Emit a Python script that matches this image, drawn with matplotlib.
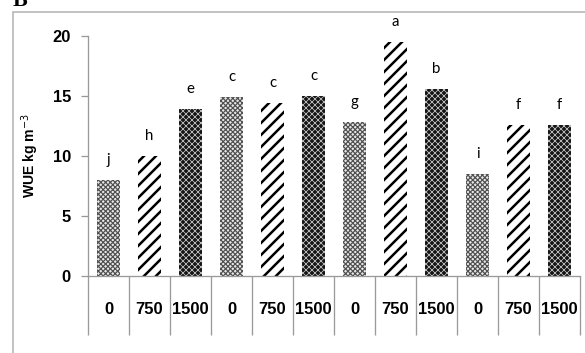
import numpy as np
import matplotlib
matplotlib.use("Agg")
import matplotlib.pyplot as plt
from matplotlib.patches import Rectangle
import matplotlib.transforms as mtransforms

# data
rates = ["0", "750", "1500", "0", "750", "1500", "0", "750", "1500", "0", "750", "1500"]
wue = [8.0, 10.0, 13.9, 14.9, 14.4, 15.0, 12.8, 19.5, 15.6, 8.5, 12.6, 12.6]
letters = ["j", "h", "e", "c", "c", "c", "g", "a", "b", "i", "f", "f"]

# look for each rate level: (bar style, hatch line width)
styles = {
    "0": (dict(facecolor="#e8e8e8", edgecolor="#505050", hatch="xxxxx"), 1.2),
    "750": (dict(facecolor="white", edgecolor="black", hatch="//"), 2.5),
    "1500": (dict(facecolor="#151515", edgecolor="#d0d0d0", hatch="xxxx"), 0.7),
}

plt.rcParams["font.family"] = ["Liberation Sans", "DejaVu Sans"]

W, H = 585, 353
fig = plt.figure(figsize=(W / 72, H / 72), dpi=72)
fig.patch.set_facecolor("white")

# outer frame and the clipped panel letter
fig.patches.append(Rectangle((13 / W, -0.1), 1.2, 1 - 12 / H + 0.1, transform=fig.transFigure,
                             fill=False, edgecolor="#b0b0b0", linewidth=1.5))
fig.text(13 / W, 1 - 6 / H, "B", fontsize=22, fontweight="bold",
         family=["Liberation Serif", "DejaVu Serif"], va="baseline", ha="left")

ax = fig.add_axes([88 / W, 1 - 276 / H, (580 - 88) / W, 240 / H])
x = np.arange(len(wue))
for xi, v, r in zip(x, wue, rates):
    st, hlw = styles[r]
    with plt.rc_context({"hatch.linewidth": hlw}):
        b = ax.bar(xi, v, width=0.56, linewidth=0, **st)
        for p in b:
            if hasattr(p, "set_hatch_linewidth"):
                p.set_hatch_linewidth(hlw)

for xi, v, s in zip(x, wue, letters):
    ax.annotate(s, (xi, v), xytext=(0, 20), textcoords="offset points",
                ha="center", va="center", fontsize=15, family=["Lato", "DejaVu Sans"])

ax.set_xlim(-0.5, len(wue) - 0.5)
ax.set_ylim(0, 20)
ax.set_yticks([0, 5, 10, 15, 20])
ax.set_xticks([])
for lab in ["top", "right"]:
    ax.spines[lab].set_visible(False)
for lab in ["left", "bottom"]:
    ax.spines[lab].set_color("#9a9a9a")
    ax.spines[lab].set_linewidth(1.3)
ax.tick_params(axis="y", length=7, width=1.3, color="#9a9a9a", pad=10, labelsize=16.5)
for t in ax.get_yticklabels():
    t.set_fontweight("bold")

# table-like category axis below the bars
trans = mtransforms.blended_transform_factory(ax.transData, ax.transAxes)
ax.vlines(np.arange(len(wue) + 1) - 0.5, -59 / 240, 0, transform=trans, clip_on=False,
          color="#9a9a9a", linewidth=1.3)
for xi, r in zip(x, rates):
    ax.text(xi, -33 / 240, r, transform=trans, ha="center", va="center",
            fontsize=16.5, fontweight="bold")

fig.text(30 / W, 1 - 156 / H, "WUE kg m$^{-3}$", rotation=90, ha="center", va="center",
         fontsize=14, fontweight="bold")

fig.savefig("out.png", dpi=72, facecolor="white")
